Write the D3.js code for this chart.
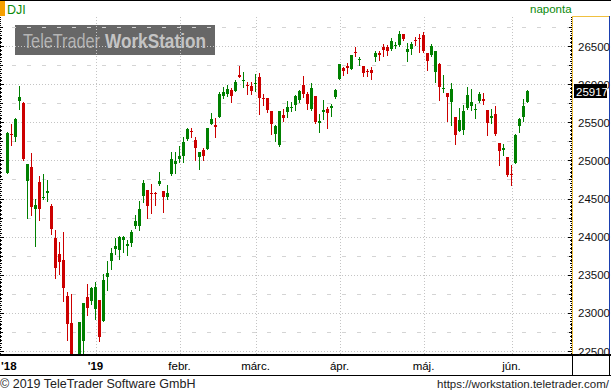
<!DOCTYPE html>
<html><head><meta charset="utf-8">
<script src="https://cdn.jsdelivr.net/npm/d3@7"></script>
<style>
body{margin:0;background:#fff}
svg{display:block}
text{font-family:"Liberation Sans",Arial,sans-serif}
</style>
</head><body>
<svg id="c" width="611" height="392"></svg>
<script>
const dates = [
"2018-11-28","2018-11-29","2018-11-30",
"2018-12-03","2018-12-04","2018-12-06","2018-12-07","2018-12-10","2018-12-11","2018-12-12","2018-12-13","2018-12-14",
"2018-12-17","2018-12-18","2018-12-19","2018-12-20","2018-12-21","2018-12-24","2018-12-26","2018-12-27","2018-12-28","2018-12-31",
"2019-01-02","2019-01-03","2019-01-04","2019-01-07","2019-01-08","2019-01-09","2019-01-10","2019-01-11","2019-01-14","2019-01-15",
"2019-01-16","2019-01-17","2019-01-18","2019-01-22","2019-01-23","2019-01-24","2019-01-25","2019-01-28","2019-01-29","2019-01-30","2019-01-31",
"2019-02-01","2019-02-04","2019-02-05","2019-02-06","2019-02-07","2019-02-08","2019-02-11","2019-02-12","2019-02-13","2019-02-14","2019-02-15",
"2019-02-19","2019-02-20","2019-02-21","2019-02-22","2019-02-25","2019-02-26","2019-02-27","2019-02-28",
"2019-03-01","2019-03-04","2019-03-05","2019-03-06","2019-03-07","2019-03-08","2019-03-11","2019-03-12","2019-03-13","2019-03-14","2019-03-15",
"2019-03-18","2019-03-19","2019-03-20","2019-03-21","2019-03-22","2019-03-25","2019-03-26","2019-03-27","2019-03-28","2019-03-29",
"2019-04-01","2019-04-02","2019-04-03","2019-04-04","2019-04-05","2019-04-08","2019-04-09","2019-04-10","2019-04-11","2019-04-12",
"2019-04-15","2019-04-16","2019-04-17","2019-04-18","2019-04-22","2019-04-23","2019-04-24","2019-04-25","2019-04-26","2019-04-29","2019-04-30",
"2019-05-01","2019-05-02","2019-05-03","2019-05-06","2019-05-07","2019-05-08","2019-05-09","2019-05-10","2019-05-13","2019-05-14","2019-05-15",
"2019-05-16","2019-05-17","2019-05-20","2019-05-21","2019-05-22","2019-05-23","2019-05-24","2019-05-28","2019-05-29","2019-05-30","2019-05-31",
"2019-06-03","2019-06-04","2019-06-05","2019-06-06","2019-06-07"];

const openV = [
24843,25350,25315,
25787,25756,24738,24917,24371,24721,24515,24581,24410,
23986,23777,23698,23226,22872,22317,21857,22636,23209,23160,
23060,23174,22903,23479,23689,23842,23825,23956,23882,23925,
24148,24148,24541,24616,24580,24575,24694,24602,24528,24825,24956,
25022,25066,25284,25395,25271,25052,25140,25153,25485,25470,25577,
25852,25883,25926,25918,26123,26050,26000,25983,
26020,26101,25830,25826,25656,25350,25214,25603,25642,25700,25730,
25804,25992,25883,25674,25849,25503,25640,25678,25691,25840,
26080,26220,26246,26211,26430,26321,26242,26180,26189,26356,
26417,26495,26487,26465,26505,26517,26661,26430,26465,26582,26612,
26648,26417,26386,26168,26277,25950,25892,25774,25578,25394,25403,
25696,25718,25668,25779,25818,25665,25565,25621,25228,25149,25053,
24830,24975,25460,25578,25774];

const highV = [
25380,25481,25564,
25979,25770,24960,25101,24498,24799,24825,24747,24432,
24091,23938,24065,23278,23252,22339,22885,23140,23383,23344,
23410,23180,23514,23681,23860,23991,24018,24018,23960,24100,
24288,24471,24747,24620,24703,24598,24860,24605,24681,25114,25114,
25192,25315,25428,25437,25315,25116,25170,25430,25625,25559,25905,
25970,25992,25957,26058,26241,26162,26036,26036,
26145,26154,25874,25830,25660,25468,25656,25682,25787,25774,25861,
25927,26110,25905,26015,25850,25613,25796,25700,25744,25949,
26277,26233,26286,26395,26487,26356,26245,26211,26233,26439,
26439,26530,26517,26613,26561,26705,26670,26548,26561,26626,26661,
26692,26420,26539,26439,26280,26124,25895,26023,25580,25687,25731,
25971,25949,25752,25905,25892,25668,25678,25718,25230,25219,25056,
24944,25350,25565,25809,25927];

const lowV = [
24843,25210,25262,
25682,25009,24249,24288,23886,24222,24505,24476,24043,
23462,23519,23165,22649,22396,21792,21712,22267,22977,23121,
22929,22640,22898,23305,23584,23785,23716,23803,23768,23890,
24118,24091,24463,24253,24310,24423,24681,24332,24506,24812,24843,
24987,24987,25276,25315,25009,24895,25009,25150,25480,25315,25575,
25830,25852,25774,25915,26095,25970,25883,25883,
25918,25616,25730,25642,25350,25258,25201,25520,25577,25656,25664,
25774,25839,25677,25665,25499,25381,25547,25433,25591,25831,
26072,26124,26146,26203,26377,26255,26111,26115,26072,26312,
26321,26377,26386,26452,26474,26504,26583,26312,26408,26517,26430,
26430,26189,26373,26037,25796,25897,25521,25477,25219,25390,25350,
25674,25665,25565,25770,25752,25337,25499,25337,24944,25075,24800,
24682,24972,25381,25525,25770];

const closeV = [
25367,25338,25547,
25835,25022,24957,24397,24419,24371,24528,24603,24109,
23597,23676,23335,22863,22445,21792,22885,23134,23073,23331,
23340,22693,23436,23523,23790,23882,24000,24004,23912,24065,
24209,24367,24707,24410,24572,24568,24734,24528,24581,25022,25000,
25061,25245,25415,25389,25166,25114,25066,25428,25546,25440,25883,
25905,25948,25852,26031,26101,26058,25990,25918,
26027,25826,25815,25673,25481,25455,25656,25564,25708,25710,25848,
25918,25883,25752,25962,25512,25525,25665,25630,25722,25927,
26268,26176,26216,26386,26421,26342,26155,26165,26146,26417,
26386,26452,26443,26570,26517,26661,26596,26465,26539,26568,26600,
26439,26312,26504,26439,25971,25962,25840,25940,25337,25534,25652,
25862,25774,25676,25875,25783,25499,25586,25350,25132,25167,24813,
24820,25337,25547,25718,25917];

const priceTicks = [22500,23000,23500,24000,24500,25000,25500,26000,26500];
const monthTickDates = ["2019-01-02","2019-02-01","2019-03-01","2019-04-01","2019-05-01","2019-06-03"];
const monthTickLabels = ["'19","febr.","márc.","ápr.","máj.","jún."];
const firstYearLabel = "'18";
const symbol = "DJI";
const period = "naponta";
const lastPrice = 25917;
const copyright = "© 2019 TeleTrader Software GmbH";
const url = "https://workstation.teletrader.com/";

const W = 611, H = 392;
const plot = {left: 0, right: 572, top: 17, bottom: 354};
const svg = d3.select("#c");
svg.append("rect").attr("width", W).attr("height", H).attr("fill", "#fff");

const x = d3.scaleBand().domain(dates).range([6, 6 + 4 * (dates.length - 0.25)]).paddingInner(0.25).paddingOuter(0);
const y = d3.scaleLinear().domain([22500, 26500]).range([351.5, 46.5]);
const px = v => Math.floor(y(v)) + 0.5;

// watermark (each word horizontally fitted to its width in the reference)
const wm = svg.append("g").style("font-family", "Lato, 'Open Sans', sans-serif");
wm.append("rect").attr("x", 15).attr("y", 25).attr("width", 200).attr("height", 30).attr("fill", "#676767");
function fitWord(txt, x0, w, fill, weight) {
  const t = wm.append("text").attr("x", 0).attr("y", 0).attr("font-size", 20)
    .attr("fill", fill).attr("font-weight", weight).text(txt);
  const nat = t.node().getComputedTextLength();
  t.attr("transform", `translate(${x0},47.5) scale(${w / nat},1)`);
}
fitWord("TeleTrader", 23, 77, "#b4b4b4", "normal");
fitWord("WorkStation", 105, 101, "#c4c4c4", "bold");

// grid
const grid = svg.append("g").attr("shape-rendering", "crispEdges");
const minor = [];
for (let v = 22750; v <= 26750; v += 500) minor.push(v);
grid.selectAll("line.minor").data(minor).join("line")
  .attr("x1", 0).attr("x2", plot.right).attr("y1", d => px(d)).attr("y2", d => px(d))
  .attr("stroke", "#d4d4d4").attr("stroke-dasharray", "4,11").attr("stroke-dashoffset", -12);
grid.selectAll("line.major").data(priceTicks).join("line")
  .attr("x1", 0).attr("x2", plot.right).attr("y1", d => px(d)).attr("y2", d => px(d))
  .attr("stroke", "#c4c4c4").attr("stroke-dasharray", "1,2");
grid.selectAll("line.vert").data(monthTickDates).join("line")
  .attr("x1", d => Math.round(x(d) + 1.5) + 0.5).attr("x2", d => Math.round(x(d) + 1.5) + 0.5)
  .attr("y1", plot.top).attr("y2", plot.bottom)
  .attr("stroke", "#c4c4c4").attr("stroke-dasharray", "1,2");

// candles
svg.append("clipPath").attr("id", "pc").append("rect")
  .attr("x", plot.left).attr("y", plot.top).attr("width", plot.right - plot.left).attr("height", plot.bottom - plot.top);
const cg = svg.append("g").attr("clip-path", "url(#pc)").attr("shape-rendering", "crispEdges");
const data = dates.map((d, i) => ({d, o: openV[i], h: highV[i], l: lowV[i], c: closeV[i]}));
const col = d => d.c >= d.o ? "#008000" : "#cc0000";
cg.selectAll("rect.w").data(data).join("rect")
  .attr("x", d => x(d.d) + 1).attr("width", 1)
  .attr("y", d => Math.round(y(d.h)))
  .attr("height", d => Math.max(1, Math.round(y(d.l)) - Math.round(y(d.h)) + 1))
  .attr("fill", col);
cg.selectAll("rect.b").data(data).join("rect")
  .attr("x", d => x(d.d)).attr("width", x.bandwidth())
  .attr("y", d => Math.round(y(Math.max(d.o, d.c))))
  .attr("height", d => Math.max(1, Math.round(y(Math.min(d.o, d.c))) - Math.round(y(Math.max(d.o, d.c)))))
  .attr("fill", col);

// frame & axes
const fr = svg.append("g").attr("shape-rendering", "crispEdges");
fr.append("line").attr("x1", 0).attr("x2", W).attr("y1", 0.5).attr("y2", 0.5).attr("stroke", "#000");
fr.append("rect").attr("x", 0).attr("y", 1).attr("width", 5).attr("height", 15).attr("fill", "#f5a000");
const small = [];
for (let v = 22450; v <= 26750; v += 50) small.push(v);
fr.selectAll("line.lt").data(small).join("line")
  .attr("x1", 0).attr("x2", d => d % 500 === 0 ? 4 : (d % 250 === 0 ? 3 : 2))
  .attr("y1", d => px(d)).attr("y2", d => px(d)).attr("stroke", "#000");
fr.selectAll("line.rt").data(small).join("line")
  .attr("x1", d => plot.right - (d % 500 === 0 ? 4 : (d % 250 === 0 ? 3 : 2))).attr("x2", plot.right)
  .attr("y1", d => px(d)).attr("y2", d => px(d)).attr("stroke", "#000");
fr.append("line").attr("x1", 0.5).attr("x2", 0.5).attr("y1", plot.top).attr("y2", plot.bottom).attr("stroke", "#000").attr("stroke-dasharray", "1,1");
fr.append("line").attr("x1", plot.right - 0.5).attr("x2", plot.right - 0.5).attr("y1", plot.top).attr("y2", plot.bottom).attr("stroke", "#000").attr("stroke-dasharray", "1,1");
fr.append("line").attr("x1", plot.right + 0.5).attr("x2", plot.right + 0.5).attr("y1", 16).attr("y2", plot.bottom).attr("stroke", "#f0c040");
fr.append("line").attr("x1", plot.right).attr("x2", 609).attr("y1", 16.5).attr("y2", 16.5).attr("stroke", "#f0c040");
fr.append("line").attr("x1", 609.5).attr("x2", 609.5).attr("y1", 16).attr("y2", plot.bottom).attr("stroke", "#1a3fb0");
fr.append("rect").attr("x", 0).attr("y", 354).attr("width", W).attr("height", 2).attr("fill", "#000");
fr.append("line").attr("x1", 0).attr("x2", W).attr("y1", 375.5).attr("y2", 375.5).attr("stroke", "#000");
fr.append("line").attr("x1", plot.right + 0.5).attr("x2", plot.right + 0.5).attr("y1", 356).attr("y2", 375).attr("stroke", "#000");
fr.append("line").attr("x1", 609.5).attr("x2", 609.5).attr("y1", 356).attr("y2", 375).attr("stroke", "#000");

// price labels
svg.selectAll("text.pl").data(priceTicks).join("text")
  .attr("x", 578).attr("y", d => y(d) + 4).attr("font-size", 11.5).attr("fill", "#111").text(d => d);
const ly = y(lastPrice);
svg.append("rect").attr("x", 574).attr("y", Math.round(ly) - 7).attr("width", 33).attr("height", 14).attr("fill", "#000");
svg.append("text").attr("x", 576).attr("y", Math.round(ly) + 4.5).attr("font-size", 11.5).attr("fill", "#fff").text(lastPrice);

// x labels
svg.append("text").attr("x", 1).attr("y", 370).attr("font-size", 11.5).attr("font-weight", "bold").attr("fill", "#000").text(firstYearLabel);
svg.selectAll("text.ml").data(monthTickDates).join("text")
  .attr("x", d => x(d) + 1.5).attr("y", 370).attr("text-anchor", "middle").attr("font-size", 11.5)
  .attr("font-weight", (d, i) => i === 0 ? "bold" : "normal").attr("fill", "#000")
  .text((d, i) => monthTickLabels[i]);

// header texts
svg.append("text").attr("x", 7).attr("y", 14).attr("font-size", 12.5).attr("fill", "#0a8a0a").text(symbol);
svg.append("text").attr("x", 530).attr("y", 13).attr("font-size", 11.5).attr("fill", "#0a8a0a").text(period);

// footer
svg.append("text").attr("x", 0).attr("y", 388).attr("font-size", 12.5).attr("fill", "#222").text(copyright);
svg.append("text").attr("x", 609).attr("y", 388).attr("text-anchor", "end").attr("font-size", 11.5).attr("fill", "#222").text(url);
</script>
</body></html>
